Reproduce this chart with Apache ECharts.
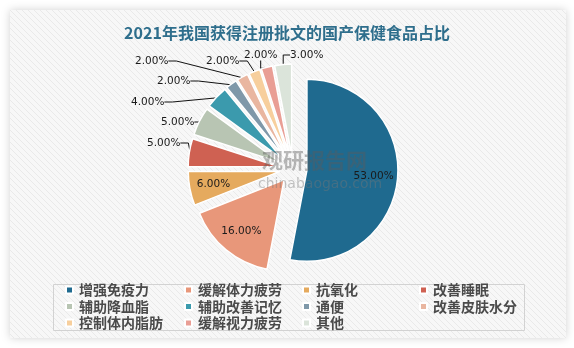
<!DOCTYPE html>
<html><head><meta charset="utf-8">
<script src="https://cdn.jsdelivr.net/npm/echarts@6/dist/echarts.min.js"></script>
<style>html,body{margin:0;padding:0;background:#fff;}#c{width:574px;height:348px;}</style>
</head><body><div id="c"></div>
<script>
var titleText = '2021年我国获得注册批文的国产保健食品占比';
var categories = ['增强免疫力','缓解体力疲劳','抗氧化','改善睡眠','辅助降血脂','辅助改善记忆','通便','改善皮肤水分','控制体内脂肪','缓解视力疲劳','其他'];
var values = [53, 16, 6, 5, 5, 4, 2, 2, 2, 2, 3];
var insideLabelIdx = [0, 1, 2];
var palette = ['#1f6a8f','#e8977a','#e5aa5e','#cf6152','#b8c5b3','#3b9aad','#7f98a9','#e9b6a0','#f7cf9d','#e99e95','#dbe4da'];
// legend is laid out in 4 columns (row-major order of categories)
var legendColumns = [
  [categories[0], categories[4], categories[8]],
  [categories[1], categories[5], categories[9]],
  [categories[2], categories[6], categories[10]],
  [categories[3], categories[7]]
];
var legendColLeft = [65, 184, 302, 419];
// outside label placement (label left x, label center y), Excel-like
var outsideLabelPos = {
  3: [147, 143], 4: [161, 122], 5: [131, 102], 6: [157, 81],
  7: [135, 61], 8: [206, 61], 9: [244, 55], 10: [290, 55]
};

// hatch pattern for the panel
var pc = document.createElement('canvas');
pc.width = 6; pc.height = 6;
var g = pc.getContext('2d');
g.fillStyle = '#f7f7f7'; g.fillRect(0,0,6,6);
g.strokeStyle = '#e9e9e9'; g.lineWidth = 1;
g.beginPath(); g.moveTo(-1,-1); g.lineTo(7,7); g.stroke();
g.beginPath(); g.moveTo(-1,5); g.lineTo(1,7); g.stroke();
g.beginPath(); g.moveTo(5,-1); g.lineTo(7,1); g.stroke();

var chart = echarts.init(document.getElementById('c'), null, {renderer:'canvas'});

var fmt = function(p){ return p.value.toFixed(2) + '%'; };
var labelFont = {fontFamily:'DejaVu Sans', fontSize:10.5, color:'#1a1a1a'};

var mainData = categories.map(function(n,i){ return {name:n, value:values[i], selected:true}; });
var innerData = categories.map(function(n,i){
  return {name:n, value:values[i], selected:true,
    label: insideLabelIdx.indexOf(i) >= 0 ? {show:true, position:'inside'} : {show:false}};
});
var outerData = categories.map(function(n,i){
  return {name:n, value:values[i],
    label: outsideLabelPos[i] ? {show:true} : {show:false},
    labelLine: outsideLabelPos[i] ? {show:true} : {show:false}};
});

var legends = legendColumns.map(function(col, k){
  return {
    data: col, left: legendColLeft[k], top: 283, orient:'vertical', padding:0,
    itemGap:2.5, itemWidth:7, itemHeight:7, icon:'rect', selectedMode:false,
    textStyle:{fontFamily:'Noto Sans CJK SC', fontSize:14, fontWeight:'bold', color:'#4a4a4a', lineHeight:14, padding:[0,0,0,1]}
  };
});

chart.setOption({
  animation:false,
  color: palette,
  graphic: [
    {type:'rect', shape:{x:10,y:10,width:556,height:328}, z:-10,
     style:{fill:{image:pc, repeat:'repeat'}, shadowBlur:8, shadowColor:'rgba(0,0,0,0.18)'}},
    {type:'rect', shape:{x:53.5,y:284.5,width:471,height:46}, z:-5, silent:true,
     style:{fill:'none', stroke:'#d2d2d2', lineWidth:1}},
    {type:'text', left:262, top:150, z:5, silent:true,
     style:{text:'观研报告网', fill:'rgba(90,90,90,0.42)', font:'bold 21px "Noto Sans CJK SC"'}},
    {type:'text', left:258, top:177, z:5, silent:true,
     style:{text:'chinabaogao.com', fill:'rgba(120,120,120,0.42)', font:'14px "DejaVu Sans"'}}
  ],
  title: {text:titleText, left:'center', top:20,
    textStyle:{fontFamily:'Noto Sans CJK SC', fontSize:16, fontWeight:'bold', color:'#2e6e8c'}},
  legend: legends,
  series: [
    {type:'pie', name:'main', center:[293,169], radius:91, startAngle:90, clockwise:true,
     selectedMode:'multiple', selectedOffset:14, silent:true,
     itemStyle:{borderColor:'#fff', borderWidth:1.5},
     label:{show:false}, labelLine:{show:false},
     emphasis:{disabled:true},
     data: mainData},
    {type:'pie', name:'inner', center:[293,169], radius:[37,91], startAngle:90, clockwise:true,
     selectedMode:'multiple', selectedOffset:14, silent:true,
     itemStyle:{color:'rgba(0,0,0,0)', borderWidth:0},
     label:{formatter:fmt, fontFamily:labelFont.fontFamily, fontSize:labelFont.fontSize, color:labelFont.color},
     labelLine:{show:false},
     emphasis:{disabled:true},
     data: innerData},
    {type:'pie', name:'outer', center:[293,169], radius:104, startAngle:90, clockwise:true,
     silent:true, avoidLabelOverlap:false,
     itemStyle:{color:'rgba(0,0,0,0)', borderWidth:0},
     label:{position:'outside', formatter:fmt, fontFamily:labelFont.fontFamily, fontSize:labelFont.fontSize, color:labelFont.color},
     labelLine:{length:8, length2:8, lineStyle:{color:'#111', width:1}},
     labelLayout: function(p){
       var pos = outsideLabelPos[p.dataIndex];
       if (!pos) return;
       return {x: pos[0], y: pos[1], align:'left', verticalAlign:'middle', hideOverlap:false};
     },
     emphasis:{disabled:true},
     data: outerData}
  ]
});
</script></body></html>
